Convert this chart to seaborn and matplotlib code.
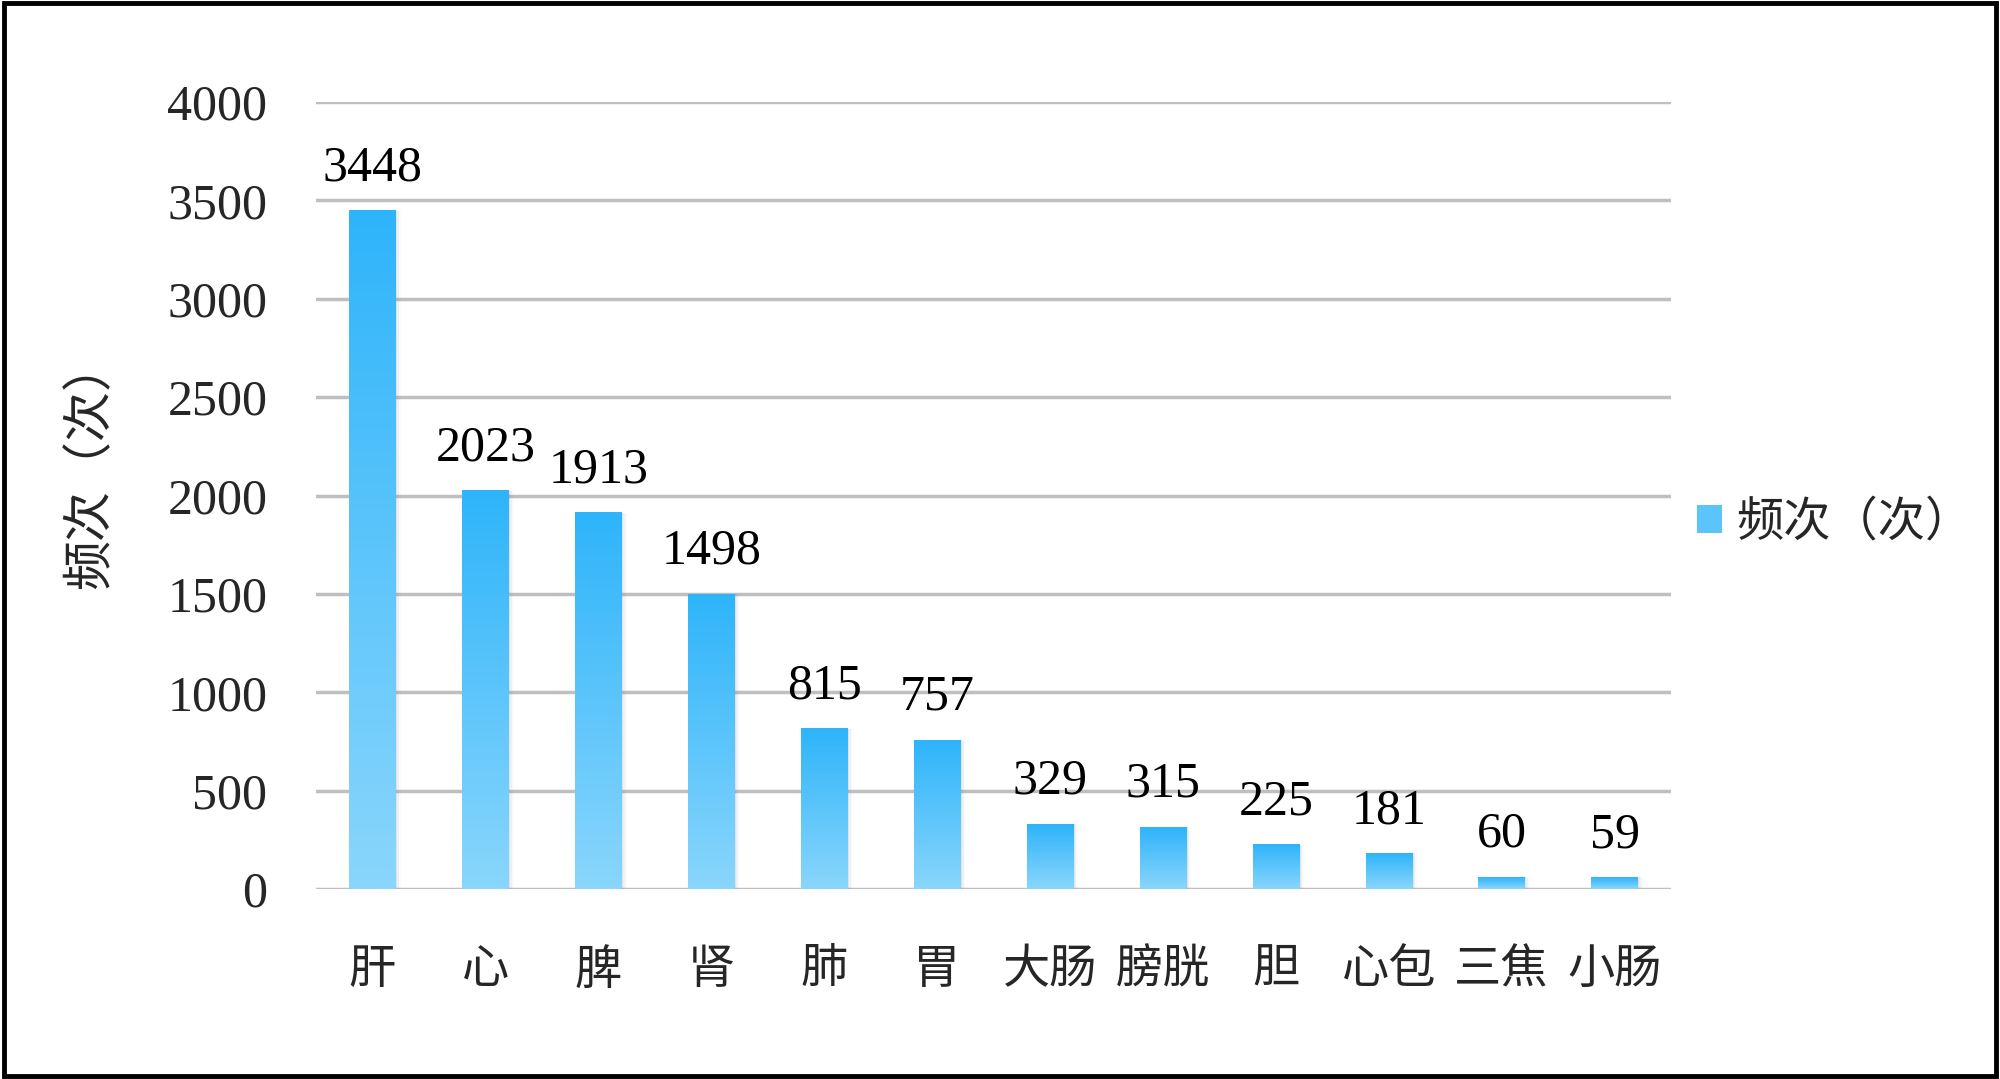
import numpy as np
import pandas as pd
import matplotlib
matplotlib.use("Agg")
import matplotlib.pyplot as plt
import seaborn as sns
from matplotlib.colors import LinearSegmentedColormap
from matplotlib.patches import Rectangle, Patch

organs = ["肝", "心", "脾", "肾", "肺", "胃", "大肠", "膀胱", "胆", "心包", "三焦", "小肠"]
counts = [3448, 2023, 1913, 1498, 815, 757, 329, 315, 225, 181, 60, 59]
yticks = [0, 500, 1000, 1500, 2000, 2500, 3000, 3500, 4000]
series_name = "频次（次）"

df = pd.DataFrame({"organ": organs, "count": counts})

sns.set_style("white")
plt.rcParams["font.family"] = ["Liberation Serif", "Noto Sans CJK SC", "DejaVu Sans"]

fig = plt.figure(figsize=(20, 10.79), dpi=100)
ax = fig.add_axes([0.158, 0.176, 0.6775, 0.7295])

sns.barplot(data=df, x="organ", y="count", color="#5BC4FB", width=0.41, ax=ax, zorder=3)

top_c = "#2EB4FA"
bot_c = "#8AD6FC"
cmap = LinearSegmentedColormap.from_list("blu", [bot_c, top_c])
grad = np.linspace(0, 1, 256).reshape(-1, 1)

for p in ax.patches:
    x0, y0 = p.get_x(), p.get_y()
    w, h = p.get_width(), p.get_height()
    # soft shadow on the right
    for k, a in enumerate([0.12, 0.07, 0.035]):
        ax.add_patch(Rectangle((x0 + 0.015 * (k + 1), y0), w, h, color="#6a7f90",
                               alpha=a, lw=0, zorder=2))
    p.set_facecolor("none")
    p.set_edgecolor("none")
    ax.imshow(grad, extent=[x0, x0 + w, y0, y0 + h], origin="lower", cmap=cmap,
              aspect="auto", zorder=3)
    ax.annotate(f"{int(h)}", (x0 + w / 2, h), xytext=(0, 14), textcoords="offset points",
                ha="center", va="bottom", fontsize=36, color="black")

ax.set_xlim(-0.5, len(organs) - 0.5)
ax.set_ylim(0, 4000)
ax.set_yticks(yticks)
ax.set_yticklabels([str(v) for v in yticks])
ax.yaxis.grid(True, color="#BFBFBF", lw=2.5, zorder=0)
ax.set_axisbelow(True)
for s in ax.spines.values():
    s.set_visible(False)
ax.tick_params(axis="y", length=0, pad=35, labelsize=36)
ax.tick_params(axis="x", length=0, pad=44, labelsize=34)
ax.set_xlabel("")
ax.set_ylabel(series_name, fontsize=36)
ax.yaxis.set_label_coords(-0.148, 0.54)

handle = Patch(facecolor="#5BC4FB", edgecolor="none")
fig.legend([handle], [series_name], loc="center left", bbox_to_anchor=(0.827, 0.515),
           frameon=False, fontsize=34, handlelength=0.55, handleheight=0.55,
           handletextpad=0.3)

fig.add_artist(Rectangle((0.002, 0.003), 0.996, 0.994, transform=fig.transFigure,
                         fill=False, edgecolor="black", lw=3.5))

fig.savefig("out.png", dpi=100)
